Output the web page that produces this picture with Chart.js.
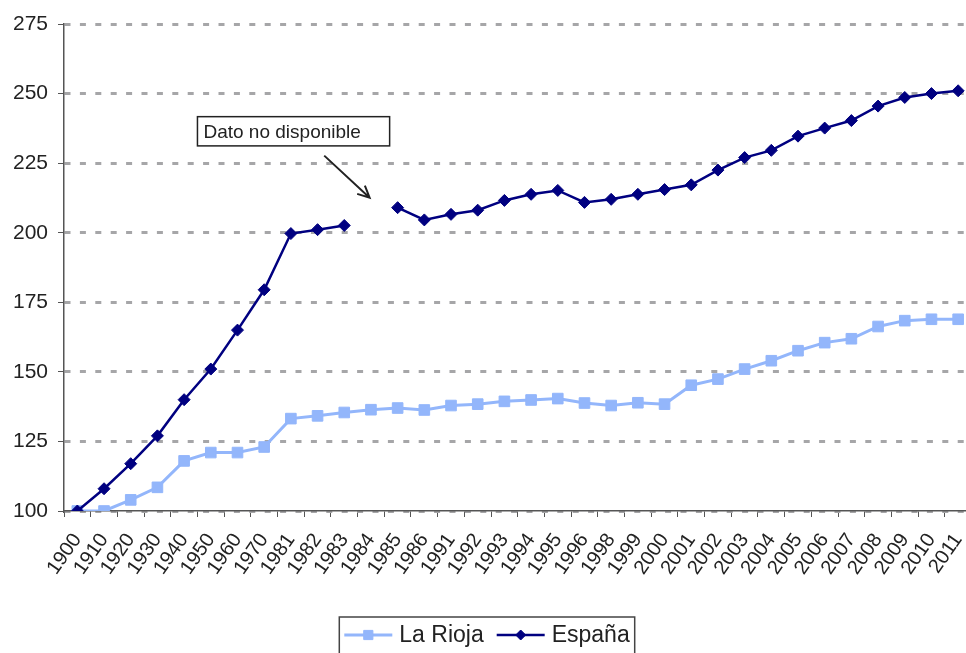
<!DOCTYPE html>
<html>
<head>
<meta charset="utf-8">
<script src="https://cdn.jsdelivr.net/npm/chart.js@4/dist/chart.umd.min.js"></script>
<style>
  html, body { margin: 0; padding: 0; overflow: hidden; background: #fff; }
  canvas { display: block; }
</style>
</head>
<body>
<canvas id="chart" width="980" height="653"></canvas>
<script>
// ---- data (index, 1900 = 100) ----
const years = ['1900', '1910', '1920', '1930', '1940', '1950', '1960', '1970', '1981', '1982',
  '1983', '1984', '1985', '1986', '1991', '1992', '1993', '1994', '1995', '1996',
  '1998', '1999', '2000', '2001', '2002', '2003', '2004', '2005', '2006', '2007',
  '2008', '2009', '2010', '2011'];

const laRioja = [100, 100, 104, 108.5, 118, 121, 121, 123, 133.2, 134.2,
  135.4, 136.4, 137, 136.3, 137.9, 138.4, 139.4, 139.9, 140.4, 138.8,
  137.9, 138.9, 138.4, 145.2, 147.4, 151, 154, 157.6, 160.5, 161.9,
  166.3, 168.4, 168.9, 168.9];

const espana = [100, 108, 117, 127, 140, 151, 165, 179.5, 199.7, 201.1,
  202.6, null, 209, 204.6, 206.6, 208.1, 211.6, 213.8, 215.2, 210.9,
  212, 213.8, 215.5, 217.2, 222.5, 227, 229.6, 234.7, 237.6, 240.3,
  245.5, 248.6, 250, 251];

const seriesNames = ['La Rioja', 'España'];
const yMin = 100, yMax = 275, yStep = 25;
const noteText = 'Dato no disponible';

const riojaColor = '#93b6fb';
const espanaColor = '#000080';
const axisColor = '#555555';
const gridColor = '#a6a6a8';
const fontFamily = "'Liberation Sans', Arial, Helvetica, sans-serif";

// note box + arrow, placed in data units (category index / value)
const note = { x0: 4.5, x1: 11.7, yTop: 241.7, yBot: 231.2, from: [9.25, 227.7], to: [10.95, 212.6] };

const annotationPlugin = {
  id: 'gapNote',
  afterDatasetsDraw(chart) {
    const { ctx, scales: { x, y } } = chart;
    ctx.save();
    const bx = x.getPixelForValue(note.x0), bx1 = x.getPixelForValue(note.x1);
    const by = y.getPixelForValue(note.yTop), by1 = y.getPixelForValue(note.yBot);
    ctx.fillStyle = '#fff';
    ctx.fillRect(bx, by, bx1 - bx, by1 - by);
    ctx.strokeStyle = '#222';
    ctx.lineWidth = 1.5;
    ctx.strokeRect(bx, by, bx1 - bx, by1 - by);
    ctx.fillStyle = '#222';
    ctx.font = '19px ' + fontFamily;
    ctx.textBaseline = 'middle';
    ctx.fillText(noteText, bx + 6, (by + by1) / 2 + 1);

    // arrow
    const ax = x.getPixelForValue(note.from[0]), ay = y.getPixelForValue(note.from[1]);
    const tx = x.getPixelForValue(note.to[0]), ty = y.getPixelForValue(note.to[1]);
    const ang = Math.atan2(ty - ay, tx - ax);
    ctx.lineWidth = 2;
    ctx.beginPath();
    ctx.moveTo(ax, ay);
    ctx.lineTo(tx, ty);
    const head = 13, spread = 0.45;
    ctx.moveTo(tx - head * Math.cos(ang - spread), ty - head * Math.sin(ang - spread));
    ctx.lineTo(tx, ty);
    ctx.lineTo(tx - head * Math.cos(ang + spread), ty - head * Math.sin(ang + spread));
    ctx.stroke();
    ctx.restore();
  },
  afterDraw(chart) {
    // legend in a framed box, line + marker samples
    const { ctx, chartArea } = chart;
    ctx.save();
    ctx.font = '23px ' + fontFamily;
    const top = chartArea.bottom + 106;
    const sample = 48, gap = 7, between = 13, pad = 5;
    const items = chart.data.datasets.map(ds => ({ ds, w: ctx.measureText(ds.label).width }));
    let total = pad * 2;
    items.forEach((it, i) => { total += sample + gap + it.w + (i ? between : 0); });
    let cx = (chart.width - 6 - total) / 2;
    ctx.strokeStyle = '#444';
    ctx.lineWidth = 1.5;
    ctx.strokeRect(cx, top, total, 44);
    cx += pad;
    const midY = top + 18;
    items.forEach((it, i) => {
      if (i) cx += between;
      const ds = it.ds;
      ctx.strokeStyle = ds.borderColor;
      ctx.lineWidth = ds.borderWidth;
      ctx.beginPath();
      ctx.moveTo(cx, midY);
      ctx.lineTo(cx + sample, midY);
      ctx.stroke();
      ctx.fillStyle = ds.pointBackgroundColor;
      ctx.strokeStyle = ds.pointBorderColor;
      ctx.lineWidth = 1;
      Chart.helpers.drawPoint(ctx, {
        pointStyle: ds.pointStyle, radius: ds.pointRadius - 1, borderWidth: 1, rotation: 0
      }, cx + sample / 2, midY);
      cx += sample + gap;
      ctx.fillStyle = '#222';
      ctx.textBaseline = 'middle';
      ctx.fillText(ds.label, cx, midY + 1);
      cx += it.w;
    });
    ctx.restore();
  }
};

new Chart(document.getElementById('chart'), {
  type: 'line',
  data: {
    labels: years,
    datasets: [
      {
        label: seriesNames[0],
        data: laRioja,
        borderColor: riojaColor,
        backgroundColor: riojaColor,
        pointBackgroundColor: riojaColor,
        pointBorderColor: riojaColor,
        borderWidth: 3,
        pointStyle: 'rect',
        pointRadius: 7.5,
        pointBorderWidth: 1,
        tension: 0,
        order: 1
      },
      {
        label: seriesNames[1],
        data: espana,
        borderColor: espanaColor,
        backgroundColor: espanaColor,
        pointBackgroundColor: espanaColor,
        pointBorderColor: espanaColor,
        borderWidth: 2.5,
        pointStyle: 'rectRot',
        pointRadius: 6,
        pointBorderWidth: 1,
        tension: 0,
        spanGaps: false,
        order: 0
      }
    ]
  },
  options: {
    responsive: false,
    animation: false,
    layout: { padding: { top: 24, right: 1, bottom: 62, left: 0 } },
    plugins: { legend: { display: false }, tooltip: { enabled: false } },
    scales: {
      x: {
        offset: true,
        grid: { display: true, drawOnChartArea: false, drawTicks: true, offset: true,
          tickLength: 6, tickColor: axisColor, tickWidth: 1 },
        border: { color: axisColor, width: 1.5 },
        ticks: { color: '#222', font: { size: 20, family: fontFamily },
          minRotation: 55, maxRotation: 55, autoSkip: false, padding: 12 },
        afterFit(scale) { scale.height = 80; scale.paddingLeft = 0; scale.paddingRight = 0; }
      },
      y: {
        min: yMin, max: yMax,
        grid: { color: gridColor, lineWidth: 3, tickLength: 6, tickColor: axisColor,
          tickWidth: 1, tickBorderDash: [] },
        border: { color: axisColor, width: 1.5, dash: [6, 9.4] },
        ticks: { stepSize: yStep, color: '#222', padding: 10,
          font: { size: 21, family: fontFamily } },
        afterFit(scale) { scale.width = 64; }
      }
    }
  },
  plugins: [annotationPlugin]
});
</script>
</body>
</html>
